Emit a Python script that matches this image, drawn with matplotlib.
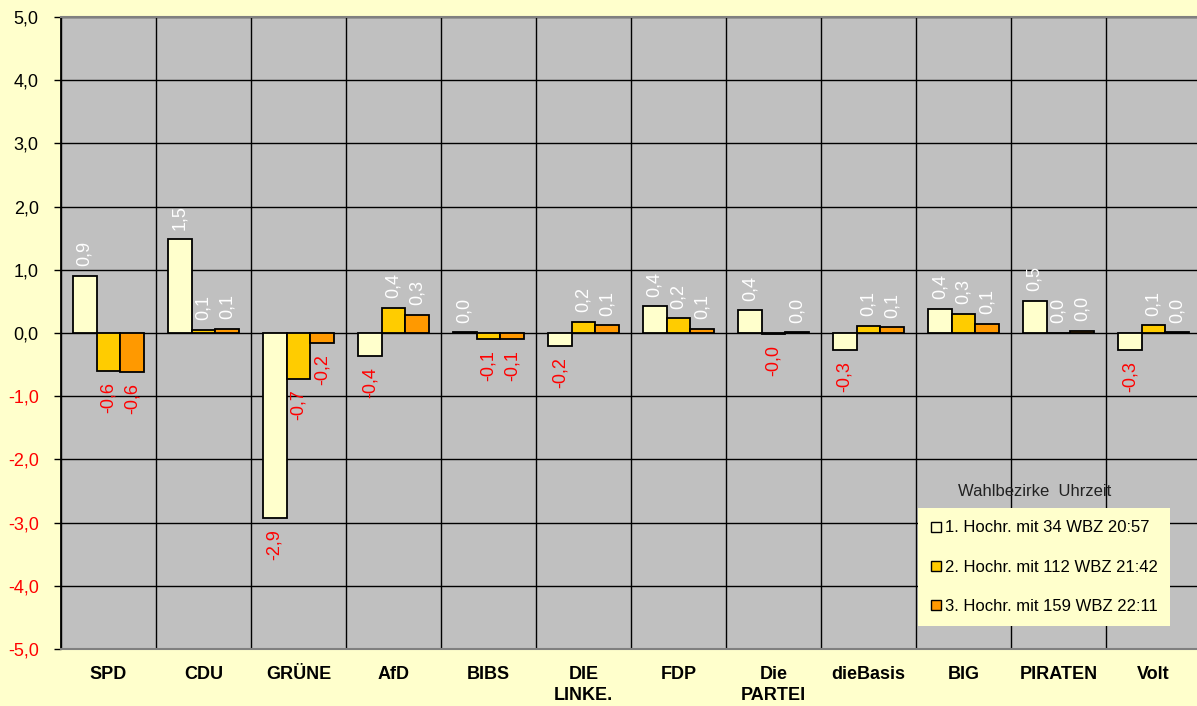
import matplotlib
matplotlib.use("Agg")
import matplotlib.pyplot as plt
from matplotlib.lines import Line2D
import numpy as np

plt.rcParams['font.family'] = ['Liberation Sans', 'DejaVu Sans']

parties = ["SPD", "CDU", "GRÜNE", "AfD", "BIBS", "DIE\nLINKE.", "FDP",
           "Die\nPARTEI", "dieBasis", "BIG", "PIRATEN", "Volt"]
hochr1 = [0.90, 1.48, -2.93, -0.37, 0.01, -0.21, 0.42, 0.36, -0.27, 0.38, 0.51, -0.27]
hochr2 = [-0.60, 0.05, -0.72, 0.40, -0.10, 0.18, 0.23, -0.02, 0.11, 0.30, 0.005, 0.12]
hochr3 = [-0.62, 0.07, -0.16, 0.29, -0.10, 0.12, 0.07, 0.01, 0.09, 0.14, 0.03, 0.01]
series_names = ["1. Hochr. mit 34 WBZ 20:57",
                "2. Hochr. mit 112 WBZ 21:42",
                "3. Hochr. mit 159 WBZ 22:11"]
legend_title = "Wahlbezirke  Uhrzeit"
yticks = [-5, -4, -3, -2, -1, 0, 1, 2, 3, 4, 5]

colors = ["#FFFFCC", "#FFCC00", "#FF9900"]
bg = "#FFFFCC"

W, H = 1197, 706
fig = plt.figure(figsize=(W / 100, H / 100), dpi=100, facecolor=bg)
ax = fig.add_axes([61 / W, (H - 649) / H, 1140 / W, 632 / H])
ax.set_facecolor("#C0C0C0")

x = np.arange(len(parties))
bw = 0.25
all_series = [hochr1, hochr2, hochr3]
for i, (vals, c) in enumerate(zip(all_series, colors)):
    pos = x + (i - 1) * bw
    ax.bar(pos, vals, width=bw, color=c, edgecolor="black", linewidth=1.3,
           zorder=3, label=series_names[i])
    for xp, v in zip(pos, vals):
        txt = f"{v:.1f}".replace(".", ",")
        if v < 0:
            ax.annotate(txt, (xp, v), xytext=(0, -8), textcoords="offset points",
                        rotation=90, ha="center", va="top", color="#FF0000",
                        fontsize=13, zorder=4)
        else:
            ax.annotate(txt, (xp, v), xytext=(0, 7), textcoords="offset points",
                        rotation=90, ha="center", va="bottom", color="white",
                        fontsize=13, zorder=4)

ax.set_xlim(-0.5, len(parties) - 0.5)
ax.set_ylim(-5, 5)
ax.set_yticks(yticks)
ax.set_yticklabels([f"{t:.1f}".replace(".", ",") for t in yticks], fontsize=13)
for lab, t in zip(ax.get_yticklabels(), yticks):
    lab.set_color("#FF0000" if t < 0 else "black")
ax.tick_params(axis="y", length=5, width=1, pad=11, color="black")

ax.set_xticks(x)
ax.set_xticklabels(parties, fontsize=13, fontweight="bold", linespacing=1.35)
ax.tick_params(axis="x", which="major", length=0, pad=12)
ax.set_xticks(np.arange(len(parties) + 1) - 0.5, minor=True)
ax.tick_params(axis="x", which="minor", length=0)

ax.grid(axis="y", which="major", color="black", linewidth=1)
ax.grid(axis="x", which="minor", color="black", linewidth=1)
ax.set_axisbelow(True)

ax.spines["left"].set_color("black")
ax.spines["left"].set_linewidth(1.3)
ax.spines["top"].set_color("#808080")
ax.spines["top"].set_linewidth(1.5)
ax.spines["bottom"].set_color("#808080")
ax.spines["bottom"].set_linewidth(1.5)
ax.spines["right"].set_visible(False)

handles = [Line2D([], [], linestyle="none", marker="s", markersize=6.5,
                  markerfacecolor=c, markeredgecolor="black", markeredgewidth=1)
           for c in colors]
leg = fig.legend(handles, series_names, loc="upper left",
                 bbox_to_anchor=(918 / W, 1 - 508 / H), borderaxespad=0,
                 fontsize=12, frameon=True, fancybox=False, framealpha=1,
                 facecolor=bg, edgecolor="none", handlelength=0.6,
                 handletextpad=0.25, labelspacing=1.45, borderpad=0.75)
fig.text(1035 / W, 1 - 492 / H, legend_title, ha="center", va="center",
         fontsize=12, color="#222222")

fig.savefig("out.png", dpi=100, facecolor=bg)
